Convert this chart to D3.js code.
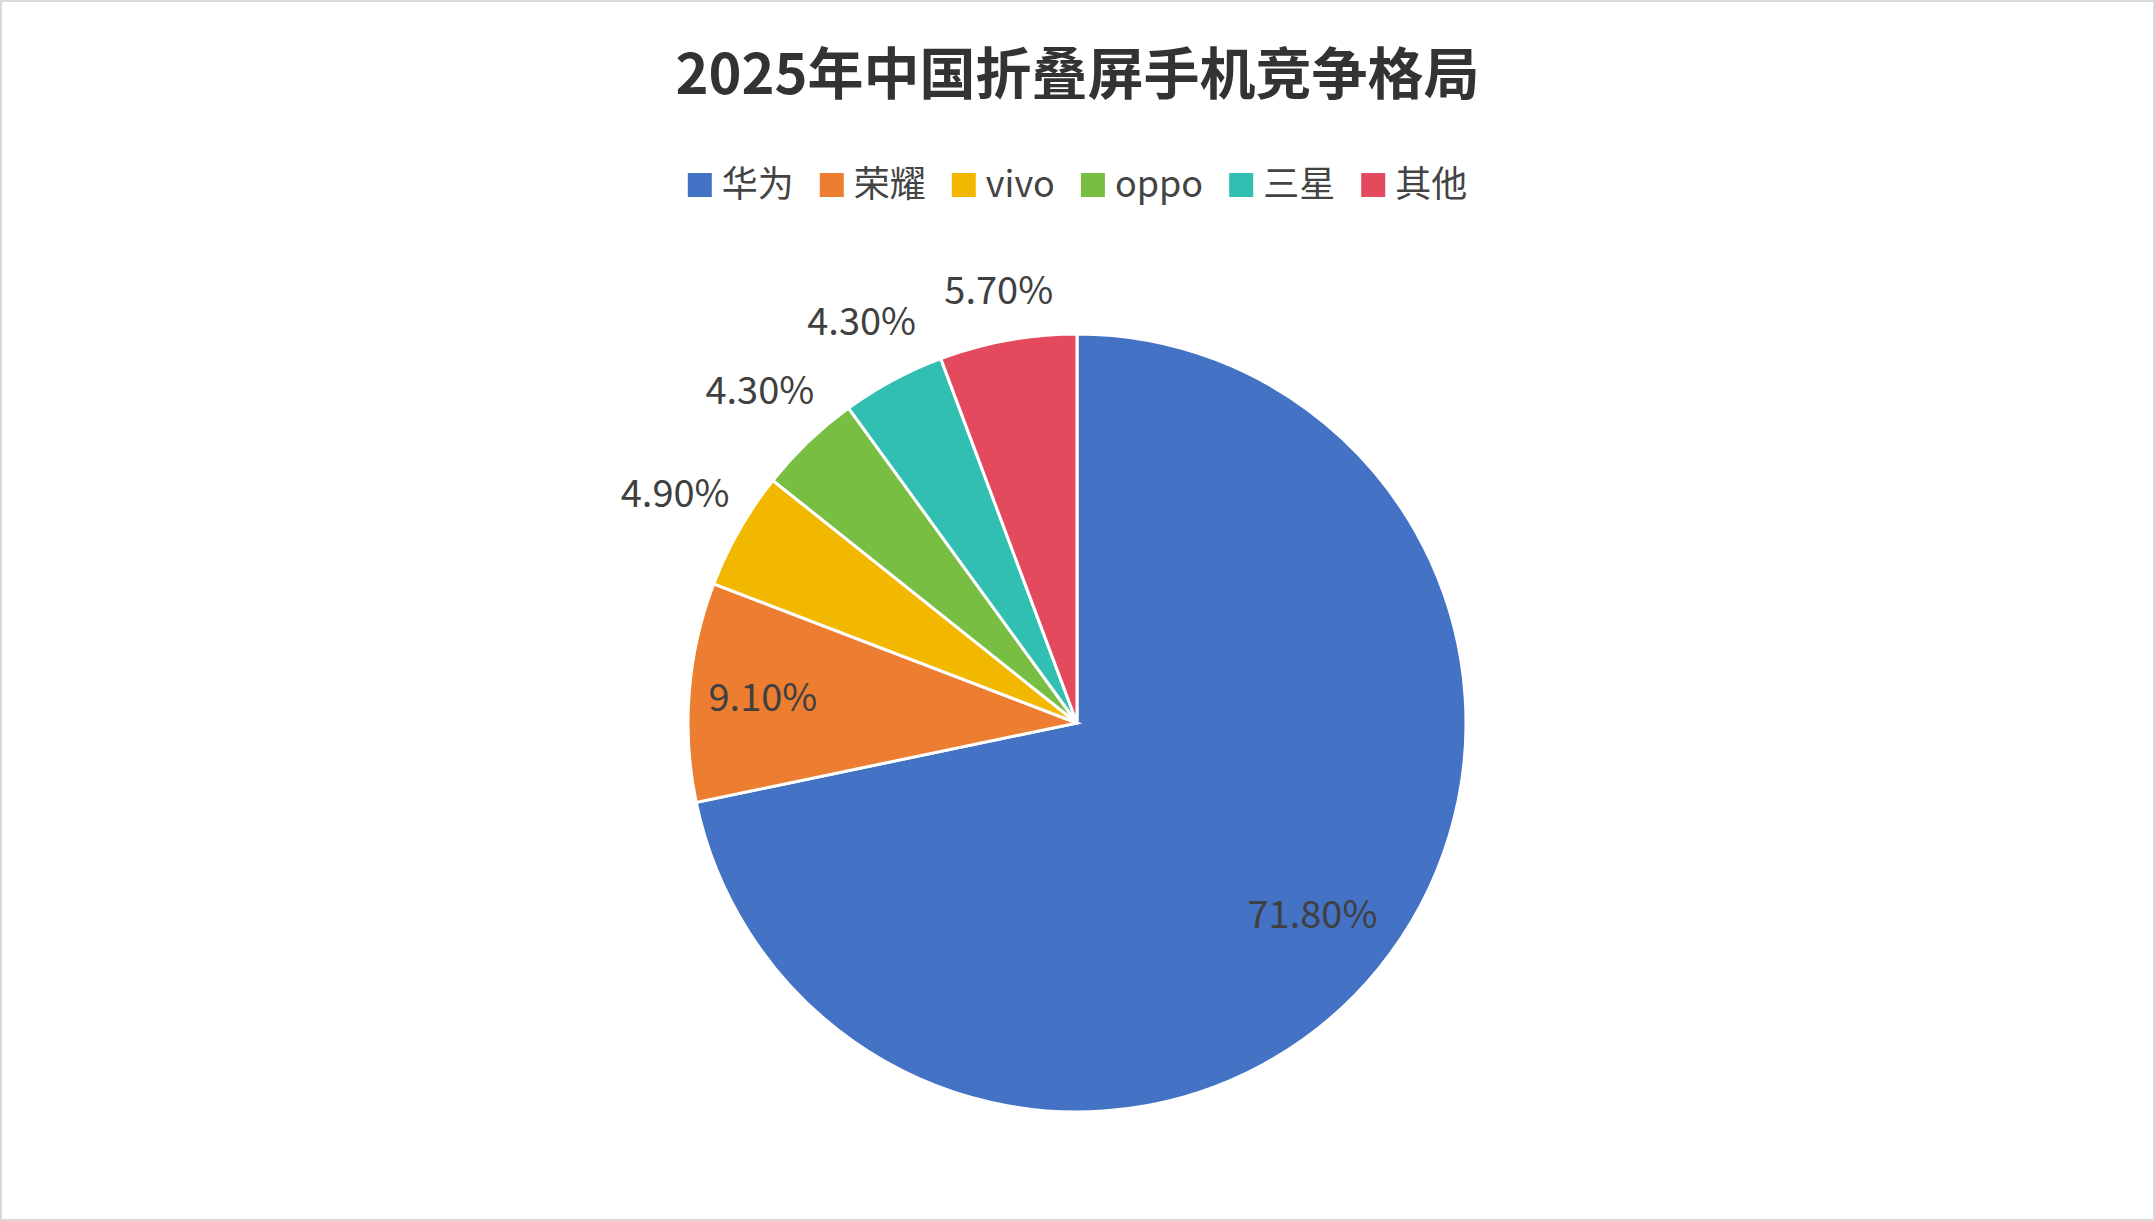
<!DOCTYPE html>
<html><head><meta charset="utf-8">
<script src="https://cdn.jsdelivr.net/npm/d3@7"></script>
<style>body{margin:0;background:#fff}svg{display:block}</style>
</head><body>
<svg id="c" width="2155" height="1221"></svg>
<script>
const categories=["华为","荣耀","vivo","oppo","三星","其他"];
const values=[71.8,9.1,4.9,4.3,4.3,5.7];
const labels=["71.80%","9.10%","4.90%","4.30%","4.30%","5.70%"];
const colors=["#4472C4","#ED7D31","#F2B800","#78BE43","#31BFB1","#E44A5E"];
const svg=d3.select("#c");
const W=2155,H=1221,font="'Noto Sans CJK SC','Noto Sans',sans-serif";
svg.append("rect").attr("x",1).attr("y",1).attr("width",W-2).attr("height",H-2).attr("fill","#fff").attr("stroke","#d9d9d9").attr("stroke-width",2);
svg.append("text").attr("x",W/2).attr("y",94).attr("text-anchor","middle").attr("font-family",font).attr("font-weight","bold").attr("font-size",56).attr("fill","#333").text("2025年中国折叠屏手机竞争格局");
// legend
const lg=svg.append("g").attr("font-family",font).attr("font-size",36).attr("fill","#444");
let x=0;const items=[];
categories.forEach((c,i)=>{const g=lg.append("g");g.append("rect").attr("x",0).attr("y",-12).attr("width",24).attr("height",24).attr("fill",colors[i]);
const t=g.append("text").attr("x",34).attr("y",12).attr("fill","#444").text(c);items.push([g,x]);x+=34+t.node().getComputedTextLength()+26;});
const total=x-26;items.forEach(([g,ox])=>g.attr("transform",`translate(${W/2-total/2+ox},185)`));
// pie
const cx=1077,cy=723,r=389;
const pie=d3.pie().sort(null).value(d=>d)(values);
const arc=d3.arc().innerRadius(0).outerRadius(r);
const g=svg.append("g").attr("transform",`translate(${cx},${cy})`);
g.selectAll("path").data(pie).join("path").attr("d",arc).attr("fill",(d,i)=>colors[i]).attr("stroke","#fff").attr("stroke-width",3);
const ratio=[0.78,0.81,1.19,1.18,1.17,1.13];
g.selectAll("text.l").data(pie).join("text").attr("class","l")
 .attr("transform",(d,i)=>{const a=(d.startAngle+d.endAngle)/2;const rr=r*ratio[i];return `translate(${Math.sin(a)*rr},${-Math.cos(a)*rr})`;})
 .attr("text-anchor","middle").attr("dy","0.35em").attr("font-family",font).attr("font-size",38).attr("fill","#404040").text((d,i)=>labels[i]);
</script></body></html>
